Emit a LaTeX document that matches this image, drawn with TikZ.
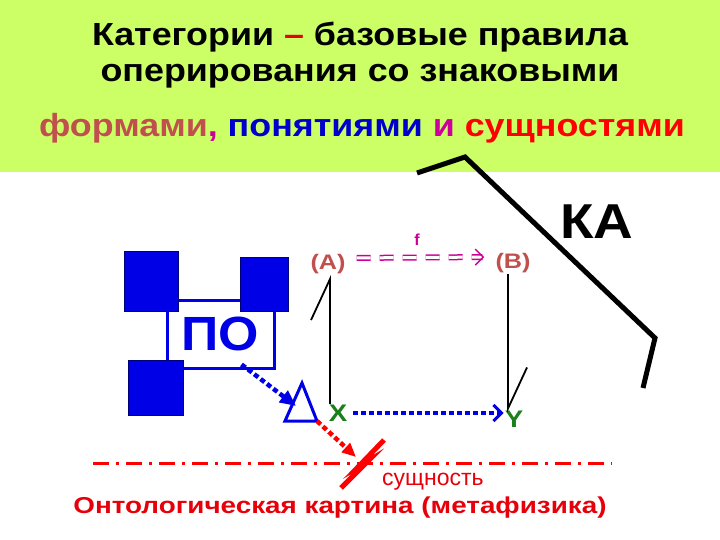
\documentclass[tikz,border=0pt]{standalone}
\usepackage{fontspec}
\setmainfont{Liberation Sans}
\usepackage{xcolor}
\usepackage{graphicx}
\usetikzlibrary{arrows.meta}
\definecolor{banner}{HTML}{CCFF66}
\definecolor{formy}{HTML}{C0504D}
\definecolor{ponyatiya}{HTML}{0000CC}
\definecolor{lila}{HTML}{CC0099}
\definecolor{zelen}{HTML}{1A801A}
\definecolor{sinij}{HTML}{0000E6}
\definecolor{temnosinij}{HTML}{00007A}
\definecolor{krasn}{HTML}{E6000A}
\def\banner{(0,0) rectangle (720,172)}
\def\kabracket{(417,173) -- (465,157) -- (655,338) -- (643,388)}
\def\titlefont{\bfseries\fontsize{32}{36}\selectfont}
\newcommand{\wide}[2][1.12]{\scalebox{#1}[1]{#2}}
\tikzset{
  sq/.style={draw=temnosinij, fill=sinij, line width=1pt, inner sep=0pt},
  lbl/.style={font=\bfseries\fontsize{21}{26}\selectfont, inner sep=1pt},
  harpoon/.style={line width=1.8pt, -{Straight Barb[left,length=41pt,width=38pt]}},
  dotline/.style={line width=4.5pt, dash pattern=on 5pt off 3pt},
}

\begin{document}
\begin{tikzpicture}[x=1pt,y=-1pt]
    \useasboundingbox (0,0) rectangle (720,540);
    \fill[banner] \banner;
      \node[anchor=base] (title1) at (360,46) {\titlefont\wide{Категории {\color{krasn}–} базовые правила}};
      \node[anchor=base] (title2) at (360,82) {\titlefont\wide{оперирования со знаковыми}};
      \node[anchor=base] (title3) at (362,137) {\titlefont\wide{{\color{formy}формами}{\color{lila},}
        {\color{ponyatiya}понятиями} {\color{lila}и} {\color{red}сущностями}}};
    \draw[line width=5pt] \kabracket;
      \node[font=\bfseries\fontsize{49}{50}\selectfont] (KA) at (597,222) {\wide{КА}};
    % ПО
      \node[draw=sinij, line width=3pt, minimum width=107pt, minimum height=68pt,
        text=sinij, font=\bfseries\fontsize{48}{50}\selectfont, inner sep=0pt] (PO) at (220.5,334) {\wide[1.08]{ПО}};
      \node[sq, minimum width=54pt, minimum height=60pt] (sq1) at (151,281) {};
      \node[sq, minimum width=48pt, minimum height=54pt] (sq2) at (264,284) {};
      \node[sq, minimum width=55pt, minimum height=55pt] (sq3) at (155.5,387.5) {};
      \coordinate (tritop) at (302,383);
      \coordinate (trileft) at (285,421);
      \coordinate (triright) at (317,421);
    \draw[sinij, line width=3pt, line join=miter] (tritop) -- (trileft) -- (triright) -- cycle;
    \draw[sinij, dotline, -{Triangle[length=16pt,width=14pt]}] ([xshift=-34pt,yshift=5pt]PO.south east) -- (296,406);
    % categories square
      \node[lbl, text=formy] (A) at (328,264) {\wide[1.2]{(A)}};
      \node[lbl, text=formy] (B) at (513,263) {\wide[1.2]{(B)}};
      \node[lbl, text=lila, font=\bfseries\fontsize{16}{18}\selectfont] (f) at (417,240) {f};
      \node[lbl, text=zelen, font=\bfseries\fontsize{24}{26}\selectfont] (X) at (338,413) {\wide[1.15]{X}};
      \node[lbl, text=zelen, font=\bfseries\fontsize{24}{26}\selectfont] (Y) at (514,419) {\wide[1.15]{Y}};
    \draw[harpoon] ([xshift=2pt]A.south |- X.north) -- ([xshift=2pt]A.south);
    \draw[harpoon] ([xshift=-5pt]B.south) -- ([xshift=-5pt,yshift=-3pt]B.south |- Y.north);
    \draw[lila, line width=1.5pt, double=white, double distance=3pt, dash pattern=on 14pt off 9pt,
      shorten <=10pt, shorten >=10pt, -{Straight Barb[length=8pt,width=16pt]}]
      ([yshift=6pt]A.east) -- ([yshift=6pt]B.west);
    \draw[sinij, dotline, -{Straight Barb[length=8pt,width=16pt,line width=3pt]}]
      ([xshift=5pt]X.east) -- (X.east -| Y.west);
    % metaphysics line
      \coordinate (boltin) at (356,457);
    \draw[red, dotline, -{Triangle[length=14pt,width=12pt]}] (triright) -- (boltin);
    \draw[red, line width=3pt, dash pattern=on 16pt off 7pt on 3pt off 7pt] (93,463) -- (612,463);
    \draw[red, line width=5pt, line join=miter] (384,440) -- (358,467) -- (368,461) -- (341,488);
      \node[anchor=base west, text=krasn, font=\fontsize{23}{26}\selectfont, inner sep=0pt] (essence) at (382,485) {сущность};
      \node[anchor=base, text=krasn, font=\bfseries\fontsize{23}{26}\selectfont] (onto) at (340,513) {\wide[1.21]{Онтологическая картина (метафизика)}};
    \end{tikzpicture}
\end{document}
